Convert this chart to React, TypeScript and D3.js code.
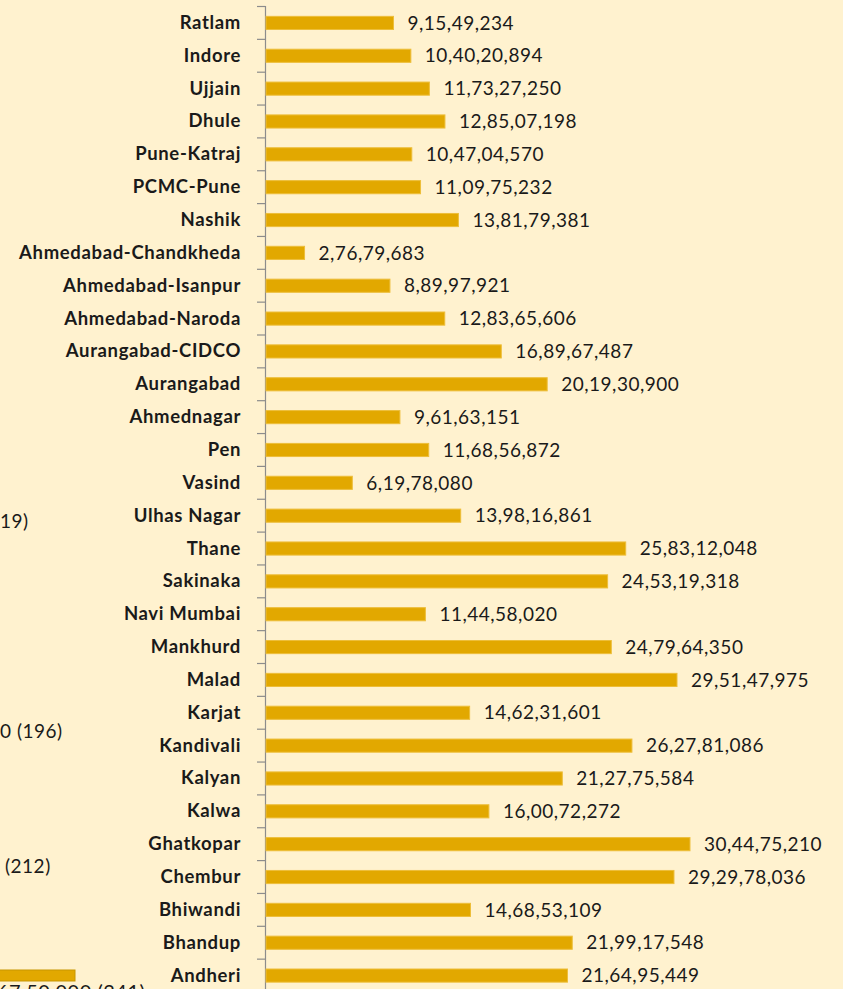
import React, { useEffect, useRef } from "react";
import * as d3 from "d3";

const categories = [
  "Ratlam", "Indore", "Ujjain", "Dhule", "Pune-Katraj", "PCMC-Pune", "Nashik",
  "Ahmedabad-Chandkheda", "Ahmedabad-Isanpur", "Ahmedabad-Naroda", "Aurangabad-CIDCO",
  "Aurangabad", "Ahmednagar", "Pen", "Vasind", "Ulhas Nagar", "Thane", "Sakinaka",
  "Navi Mumbai", "Mankhurd", "Malad", "Karjat", "Kandivali", "Kalyan", "Kalwa",
  "Ghatkopar", "Chembur", "Bhiwandi", "Bhandup", "Andheri",
];

const values = [
  91549234, 104020894, 117327250, 128507198, 104704570, 110975232, 138179381,
  27679683, 88997921, 128365606, 168967487, 201930900, 96163151, 116856872,
  61978080, 139816861, 258312048, 245319318, 114458020, 247964350, 295147975,
  146231601, 262781086, 212775584, 160072272, 304475210, 292978036, 146853109,
  219917548, 216495449,
];

// visible fragments of the neighbouring chart, cut off by the left edge
const leftFragments = ["19)", "0 (196)", "(212)", "67,50,000 (241)"];
const leftBarValue = [67500000];

const W = 843;
const H = 989;
const FONT = "Lato, 'Open Sans', sans-serif";

function indianFormat(n: number): string {
  const s = String(Math.round(n));
  if (s.length <= 3) return s;
  const last3 = s.slice(-3);
  let rest = s.slice(0, -3);
  const parts: string[] = [];
  while (rest.length > 2) {
    parts.unshift(rest.slice(-2));
    rest = rest.slice(0, -2);
  }
  if (rest.length) parts.unshift(rest);
  return parts.join(",") + "," + last3;
}

export default function App() {
  const ref = useRef<SVGSVGElement>(null);

  useEffect(() => {
    document.body.style.margin = "0";
    const svg = d3.select(ref.current);
    svg.selectAll("*").remove();

    svg.append("rect").attr("width", W).attr("height", H).attr("fill", "#FFF2CF");

    const x = d3.scaleLinear().domain([0, 400000000]).range([266, 823]);
    const y = d3
      .scaleBand<string>()
      .domain(categories)
      .range([6, 6 + 32.85 * categories.length])
      .paddingInner(0.6)
      .paddingOuter(0.3);

    // axis line
    svg
      .append("line")
      .attr("x1", 265.5).attr("x2", 265.5)
      .attr("y1", 6).attr("y2", H + 5)
      .attr("stroke", "#8c8c8c").attr("stroke-width", 1.2);

    // ticks between categories
    const bounds = d3.range(categories.length + 1).map((i) => 6 + i * y.step());
    svg
      .selectAll("line.tick")
      .data(bounds)
      .join("line")
      .attr("class", "tick")
      .attr("x1", 257).attr("x2", 265.5)
      .attr("y1", (d) => d + 0.5).attr("y2", (d) => d + 0.5)
      .attr("stroke", "#8c8c8c").attr("stroke-width", 1.2);

    const rows = categories.map((c, i) => ({ c, v: values[i] }));

    svg
      .selectAll("rect.bar")
      .data(rows)
      .join("rect")
      .attr("class", "bar")
      .attr("x", x(0))
      .attr("y", (d) => y(d.c)! + 0.5)
      .attr("width", (d) => x(d.v) - x(0))
      .attr("height", y.bandwidth())
      .attr("fill", "#E2A800")
      .attr("stroke", "#EDBE3A")
      .attr("stroke-width", 1);

    svg
      .selectAll("text.cat")
      .data(rows)
      .join("text")
      .attr("class", "cat")
      .attr("x", 241)
      .attr("y", (d) => y(d.c)! + y.bandwidth() / 2)
      .attr("dy", "0.35em")
      .attr("text-anchor", "end")
      .attr("font-family", FONT)
      .attr("font-weight", "bold")
      .attr("font-size", 18.5)
      .attr("letter-spacing", 0.65)
      .attr("fill", "#1a1a1a")
      .text((d) => d.c);

    svg
      .selectAll("text.val")
      .data(rows)
      .join("text")
      .attr("class", "val")
      .attr("x", (d) => x(d.v) + 14)
      .attr("y", (d) => y(d.c)! + y.bandwidth() / 2)
      .attr("dy", "0.38em")
      .attr("font-family", FONT)
      .attr("font-size", 19)
      .attr("letter-spacing", 0.5)
      .attr("fill", "#1a1a1a")
      .text((d) => indianFormat(d.v));

    // neighbouring chart fragments
    const fragY = [521, 731, 866];
    const fragX = [0, 0, 5];
    fragY.forEach((yy, i) => {
      svg
        .append("text")
        .attr("x", fragX[i])
        .attr("y", yy)
        .attr("dy", "0.35em")
        .attr("font-family", FONT)
        .attr("font-size", 19)
        .attr("letter-spacing", 0.5)
        .attr("fill", "#1a1a1a")
        .text(leftFragments[i]);
    });
    const lx = d3.scaleLinear().domain([0, 67500000]).range([-60, 75]);
    svg
      .append("rect")
      .attr("x", lx(0))
      .attr("y", 970)
      .attr("width", lx(leftBarValue[0]) - lx(0))
      .attr("height", 11)
      .attr("fill", "#E2A800")
      .attr("stroke", "#C89600");
    svg
      .append("text")
      .attr("x", -3)
      .attr("y", 999)
      .attr("font-family", FONT)
      .attr("font-size", 20)
      .attr("letter-spacing", 0.5)
      .attr("fill", "#1a1a1a")
      .text(leftFragments[3]);
  }, []);

  return (
    <svg
      ref={ref}
      width={W}
      height={H}
      style={{ position: "absolute", left: 0, top: 0, display: "block", overflow: "hidden" }}
    />
  );
}
